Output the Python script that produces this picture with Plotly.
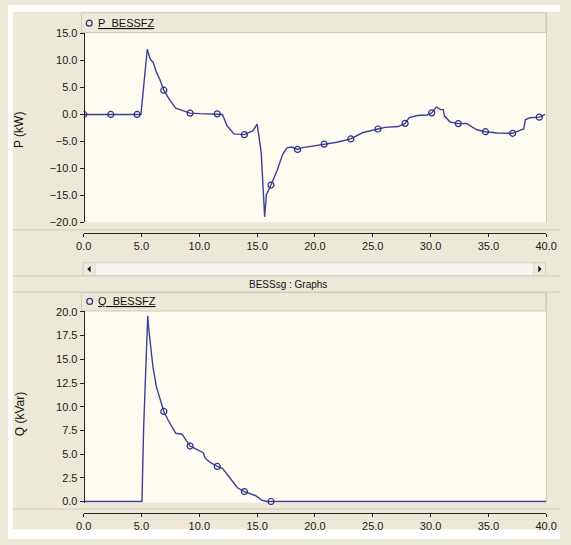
import plotly.graph_objects as go

# ---------------- data ----------------
p_time = [0, 2.34, 4.62, 4.95, 5.5, 5.7, 5.85, 6.0, 6.3, 6.6, 6.93, 7.4, 7.96, 8.6, 9.2,
          10.0, 11.6, 12.0, 12.4, 13.0, 13.9, 14.65, 15.0, 15.35, 15.65, 15.8, 15.9, 16.2,
          16.7, 17.2, 17.57, 18.0, 18.5, 18.83, 19.8, 20.8, 21.9, 23.1, 24.1, 25.45, 26.06,
          27.2, 27.8, 28.15, 28.85, 29.7, 30.1, 30.5, 30.9, 31.1, 31.2, 31.7, 32.4, 33.1,
          34.0, 34.75, 35.8, 37.1, 38.05, 38.2, 38.6, 39.4, 39.9]
p_kw = [0, 0, 0, 0, 12.1, 10.6, 10.0, 9.7, 7.8, 6.4, 4.5, 2.8, 1.15, 0.7, 0.25,
        0.15, 0.1, 0.0, -2.1, -3.6, -3.75, -3.0, -1.8, -7.0, -19.0, -14.8, -14.5, -13.1,
        -10.6, -7.45, -6.2, -6.05, -6.5, -6.2, -5.9, -5.5, -5.15, -4.55, -3.4, -2.7, -2.4,
        -2.25, -1.65, -0.6, -0.2, -0.1, 0.3, 1.35, 0.9, 0.9, -0.3, -1.4, -1.7, -1.65,
        -2.85, -3.2, -3.45, -3.5, -2.7, -1.0, -0.6, -0.5, 0.0]

p_mark_time = [0, 2.34, 4.62, 6.93, 9.2, 11.55, 13.9, 16.2, 18.5, 20.8, 23.1, 25.45,
               27.8, 30.1, 32.4, 34.75, 37.1, 39.4]
p_mark_kw = [0, 0, 0, 4.5, 0.25, 0.1, -3.75, -13.1, -6.5, -5.5, -4.55, -2.7,
             -1.65, 0.3, -1.7, -3.2, -3.5, -0.5]

q_time = [0, 5.04, 5.18, 5.32, 5.54, 5.6, 5.74, 6.0, 6.29, 6.6, 6.93, 7.3, 7.68, 7.96,
          8.5, 9.2, 9.6, 10.33, 10.5, 10.9, 11.55, 12.0, 12.7, 13.3, 13.9, 14.9, 15.4,
          15.8, 16.2, 40]
q_kvar = [0, 0, 7.6, 12.8, 19.6, 18.5, 16.9, 14.1, 12.1, 10.7, 9.5, 8.6, 7.75, 7.2,
          7.1, 5.85, 5.6, 5.15, 4.6, 4.15, 3.7, 3.5, 2.4, 1.45, 1.05, 0.6, 0.15,
          0.0, 0.0, 0.0]

q_mark_time = [6.93, 9.2, 11.55, 13.9, 16.2]
q_mark_kvar = [9.5, 5.85, 3.7, 1.05, 0.0]

x_ticks = [0, 5, 10, 15, 20, 25, 30, 35, 40]
p_ticks = [-20, -15, -10, -5, 0, 5, 10, 15]
q_ticks = [0, 2.5, 5, 7.5, 10, 12.5, 15, 17.5, 20]

# ---------------- styling ----------------
W, H = 571, 545
GRAY = "#ECE9D8"
CREAM = "#FEFBF0"
LINE = "#3F3F99"
MARK = "#2E2E85"
BORDER = "#CFCBBB"
FONT = "Liberation Sans, Arial, sans-serif"


def px(x):
    return x / W


def py(y):
    return 1 - y / H


fig = go.Figure()
fig.add_trace(go.Scatter(x=p_time, y=p_kw, mode="lines", line=dict(color=LINE, width=1.4),
                         xaxis="x", yaxis="y", showlegend=False))
fig.add_trace(go.Scatter(x=p_mark_time, y=p_mark_kw, mode="markers",
                         marker=dict(symbol="circle-open", size=6, color=MARK, line=dict(width=1.2)),
                         xaxis="x", yaxis="y", showlegend=False))
fig.add_trace(go.Scatter(x=q_time, y=q_kvar, mode="lines", line=dict(color=LINE, width=1.4),
                         xaxis="x2", yaxis="y2", showlegend=False))
fig.add_trace(go.Scatter(x=q_mark_time, y=q_mark_kvar, mode="markers",
                         marker=dict(symbol="circle-open", size=6, color=MARK, line=dict(width=1.2)),
                         xaxis="x2", yaxis="y2", showlegend=False, cliponaxis=False))

tickfont = dict(family=FONT, size=11, color="#1a1a1a")
common_x = dict(range=[0, 40], tickvals=x_ticks, tickformat=".1f", showgrid=False, zeroline=False,
                showline=True, linecolor="#222", linewidth=1, ticks="outside", ticklen=3,
                tickcolor="#222", tickfont=tickfont, fixedrange=True)
common_y = dict(showgrid=False, zeroline=False, showline=True, linecolor="#222", linewidth=1,
                ticks="outside", ticklen=4, tickcolor="#222", tickfont=tickfont,
                tickformat=".1f", fixedrange=True)

xd = [px(78.3), px(556.7)]
fig.update_layout(
    width=W, height=H, autosize=False,
    margin=dict(l=0, r=0, t=0, b=0, pad=0),
    paper_bgcolor=GRAY, plot_bgcolor=CREAM,
    xaxis=dict(domain=xd, anchor="free", position=py(233), **common_x),
    yaxis=dict(domain=[py(221.7), py(28.1)], range=[-20, 15.2], tickvals=p_ticks,
               anchor="free", position=px(78.3), **common_y),
    xaxis2=dict(domain=xd, anchor="free", position=py(518), **common_x),
    yaxis2=dict(domain=[py(507.9), py(312.3)], range=[-0.12, 20.1], tickvals=q_ticks,
                anchor="free", position=px(78.3), **common_y),
)

shapes = []


def add(**kw):
    kw.setdefault("xref", "paper")
    kw.setdefault("yref", "paper")
    shapes.append(kw)


# outer white border strips
add(type="rect", x0=0, x1=1, y0=py(7), y1=1, fillcolor="white", line_width=0, layer="below")
add(type="rect", x0=0, x1=px(5), y0=0, y1=1, fillcolor="white", line_width=0, layer="below")
add(type="rect", x0=0, x1=1, y0=0, y1=py(535), fillcolor="white", line_width=0, layer="below")
# legend bars
for y0, y1 in [(8, 28.1), (293.5, 312.3)]:
    add(type="rect", x0=px(76), x1=px(556.5), y0=py(y1), y1=py(y0), fillcolor=GRAY,
        line=dict(color=BORDER, width=1), layer="below")
# right border of plot panels
for y0, y1 in [(8, 222), (293.5, 508)]:
    add(type="line", x0=px(557), x1=px(557), y0=py(y0), y1=py(y1), line=dict(color=BORDER, width=1))
# separator lines
for yy in [229.5, 276.5, 293, 514.5]:
    add(type="line", x0=px(5), x1=1, y0=py(yy), y1=py(yy), line=dict(color=BORDER, width=1))
# scroll bar
add(type="rect", x0=px(78), x1=px(556), y0=py(276), y1=py(263), fillcolor="#F6F5F0",
    line=dict(color="#D6D3C6", width=1))
add(type="rect", x0=px(78), x1=px(90), y0=py(276), y1=py(263), fillcolor="#EEEBE0",
    line=dict(color="#D6D3C6", width=1))
add(type="rect", x0=px(544), x1=px(556), y0=py(276), y1=py(263), fillcolor="#EEEBE0",
    line=dict(color="#D6D3C6", width=1))
add(type="path", path=f"M {px(85.5)} {py(266)} L {px(85.5)} {py(273)} L {px(82)} {py(269.5)} Z",
    fillcolor="#111", line_width=0)
add(type="path", path=f"M {px(548.5)} {py(266)} L {px(548.5)} {py(273)} L {px(552)} {py(269.5)} Z",
    fillcolor="#111", line_width=0)
# legend circles
for cx, cy in [(84, 18.5), (84.5, 302.5)]:
    add(type="circle", x0=px(cx - 3), x1=px(cx + 3), y0=py(cy + 3), y1=py(cy - 3),
        line=dict(color=MARK, width=1.2))
fig.update_layout(shapes=shapes)

ann = []
ann.append(dict(x=px(91), y=py(18.5), xref="paper", yref="paper", xanchor="left", yanchor="middle",
                text="<u>P_BESSFZ</u>", showarrow=False, font=dict(family=FONT, size=11, color="#111")))
ann.append(dict(x=px(91.5), y=py(302.5), xref="paper", yref="paper", xanchor="left", yanchor="middle",
                text="<u>Q_BESSFZ</u>", showarrow=False, font=dict(family=FONT, size=11, color="#111")))
ann.append(dict(x=px(290), y=py(285.5), xref="paper", yref="paper", xanchor="center", yanchor="middle",
                text="BESSsg : Graphs", showarrow=False, font=dict(family=FONT, size=10, color="#111")))
ann.append(dict(x=px(12), y=py(128), xref="paper", yref="paper", xanchor="center", yanchor="middle",
                text="P (kW)", textangle=-90, showarrow=False, font=dict(family=FONT, size=12, color="#111")))
ann.append(dict(x=px(12), y=py(418), xref="paper", yref="paper", xanchor="center", yanchor="middle",
                text="Q (kVar)", textangle=-90, showarrow=False, font=dict(family=FONT, size=12, color="#111")))
fig.update_layout(annotations=ann)

fig.write_html("out.html")
